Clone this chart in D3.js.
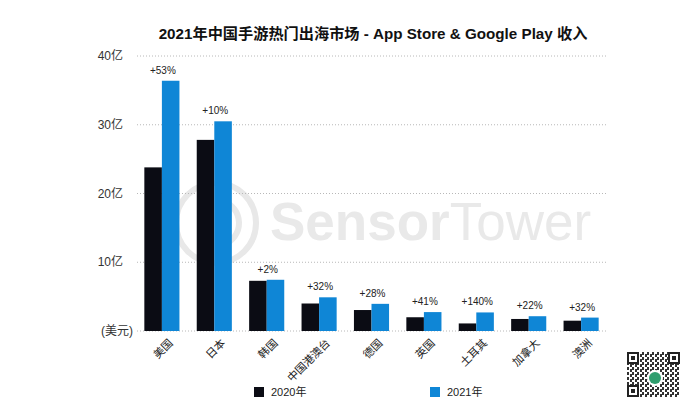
<!DOCTYPE html>
<html>
<head>
<meta charset="utf-8">
<script src="https://cdn.jsdelivr.net/npm/d3@7"></script>
<style>
  body { margin: 0; background: #fff; }
  svg { display: block; }
  text { font-family: "Liberation Sans", "Noto Sans CJK SC", sans-serif; }
</style>
</head>
<body>
<div id="chart"></div>
<script>
// data (unit: 亿美元)
var markets = ["美国", "日本", "韩国", "中国港澳台", "德国", "英国", "土耳其", "加拿大", "澳洲"];
var rev2020 = [23.8, 27.8, 7.3, 4.0, 3.05, 2.0, 1.1, 1.75, 1.5];
var rev2021 = [36.4, 30.5, 7.45, 4.9, 3.95, 2.75, 2.7, 2.15, 1.95];
var growth = ["+53%", "+10%", "+2%", "+32%", "+28%", "+41%", "+140%", "+22%", "+32%"];
var yTicks = [0, 10, 20, 30, 40];
var yTickLabels = ["(美元)", "10亿", "20亿", "30亿", "40亿"];
var seriesNames = ["2020年", "2021年"];
var colors = ["#0b0c14", "#0f86d6"];

var width = 693, height = 397;

var svg = d3.select("#chart")
    .append("svg")
    .attr("width", width)
    .attr("height", height);

// title
svg.append("text")
    .attr("x", 373)
    .attr("y", 39)
    .attr("text-anchor", "middle")
    .attr("font-size", 15.2)
    .attr("font-weight", "bold")
    .attr("fill", "#111")
    .text("2021年中国手游热门出海市场 - App Store & Google Play 收入");

// scales
var x = d3.scaleBand()
    .domain(markets)
    .range([137, 606])
    .paddingInner(0.33)
    .paddingOuter(0.14);

var x1 = d3.scaleBand()
    .domain([0, 1])
    .range([0, x.bandwidth()]);

var y = d3.scaleLinear()
    .domain([0, 40])
    .range([331, 56]);

// watermark
var wm = svg.append("g").attr("fill", "none").attr("stroke", "#e8e8e8");
wm.append("circle").attr("cx", 216).attr("cy", 223).attr("r", 40).attr("stroke-width", 6);
wm.append("path")
    .attr("d", d3.arc()({innerRadius: 20, outerRadius: 26, startAngle: 0.3, endAngle: 2.8}))
    .attr("transform", "translate(216,223)")
    .attr("fill", "#e8e8e8").attr("stroke", "none");
var wmText = svg.append("text")
    .attr("x", 270)
    .attr("y", 240)
    .attr("font-size", 53)
    .attr("font-family", "'Open Sans', 'Liberation Sans', sans-serif")
    .attr("fill", "#e9e9e9");
wmText.append("tspan").attr("font-weight", "bold").text("Sensor");
wmText.append("tspan").text("Tower");

// gridlines
svg.append("g")
    .selectAll("line")
    .data(yTicks)
    .join("line")
    .attr("x1", 137)
    .attr("x2", 606)
    .attr("y1", function (d) { return y(d); })
    .attr("y2", function (d) { return y(d); })
    .attr("stroke", "#b8b8b8")
    .attr("stroke-width", 1)
    .attr("stroke-dasharray", "1,2");

// y labels
svg.append("g")
    .selectAll("text")
    .data(yTicks)
    .join("text")
    .attr("x", function (d) { return d === 0 ? 133 : 123; })
    .attr("y", function (d) { return y(d); })
    .attr("dy", "0.35em")
    .attr("text-anchor", "end")
    .attr("font-size", 12)
    .attr("fill", "#333")
    .text(function (d, i) { return yTickLabels[i]; });

// bars
var groups = svg.append("g")
    .selectAll("g")
    .data(markets)
    .join("g")
    .attr("transform", function (d) { return "translate(" + x(d) + ",0)"; });

groups.append("rect")
    .attr("x", x1(0))
    .attr("width", x1.bandwidth())
    .attr("y", function (d, i) { return y(rev2020[i]); })
    .attr("height", function (d, i) { return y(0) - y(rev2020[i]); })
    .attr("fill", colors[0]);

groups.append("rect")
    .attr("x", x1(1))
    .attr("width", x1.bandwidth())
    .attr("y", function (d, i) { return y(rev2021[i]); })
    .attr("height", function (d, i) { return y(0) - y(rev2021[i]); })
    .attr("fill", colors[1]);

// growth labels
groups.append("text")
    .attr("x", x.bandwidth() / 2 + 1)
    .attr("y", function (d, i) { return y(Math.max(rev2020[i], rev2021[i])) - 7; })
    .attr("text-anchor", "middle")
    .attr("font-size", 10)
    .attr("fill", "#222")
    .text(function (d, i) { return growth[i]; });

// category labels
groups.append("text")
    .attr("transform", "translate(" + (x.bandwidth() / 2 + 9) + "," + (y(0) + 10) + ") rotate(-45)")
    .attr("text-anchor", "end")
    .attr("dy", "0.35em")
    .attr("font-size", 11)
    .attr("fill", "#222")
    .text(function (d) { return d; });

// legend at the bottom edge
var legendX = [254, 430];
var legend = svg.append("g")
    .selectAll("g")
    .data(seriesNames)
    .join("g")
    .attr("transform", function (d, i) { return "translate(" + legendX[i] + ",387)"; });
legend.append("rect")
    .attr("width", 10)
    .attr("height", 10)
    .attr("fill", function (d, i) { return colors[i]; });
legend.append("text")
    .attr("x", 17)
    .attr("y", 9)
    .attr("font-size", 11)
    .attr("fill", "#222")
    .text(function (d) { return d; });

// QR badge (decoration)
var defs = svg.append("defs");
var pat = defs.append("pattern")
    .attr("id", "qrdots")
    .attr("width", 5).attr("height", 5)
    .attr("patternUnits", "userSpaceOnUse");
pat.append("rect").attr("width", 5).attr("height", 5).attr("fill", "#fff");
pat.append("rect").attr("width", 2).attr("height", 3).attr("fill", "#333");
pat.append("rect").attr("x", 3).attr("y", 2).attr("width", 2).attr("height", 3).attr("fill", "#333");

var qr = svg.append("g").attr("transform", "translate(627,352)");
qr.append("rect").attr("width", 53).attr("height", 45).attr("fill", "url(#qrdots)");
[[0, 0], [41, 0], [0, 33]].forEach(function (p) {
    qr.append("rect").attr("x", p[0]).attr("y", p[1]).attr("width", 12).attr("height", 12).attr("fill", "#222");
    qr.append("rect").attr("x", p[0] + 2).attr("y", p[1] + 2).attr("width", 8).attr("height", 8).attr("fill", "#fff");
    qr.append("rect").attr("x", p[0] + 4).attr("y", p[1] + 4).attr("width", 4).attr("height", 4).attr("fill", "#222");
});
qr.append("circle").attr("cx", 28).attr("cy", 26).attr("r", 8).attr("fill", "#fff");
qr.append("circle").attr("cx", 28).attr("cy", 26).attr("r", 6).attr("fill", "#2f9e6e");
</script>
</body>
</html>
